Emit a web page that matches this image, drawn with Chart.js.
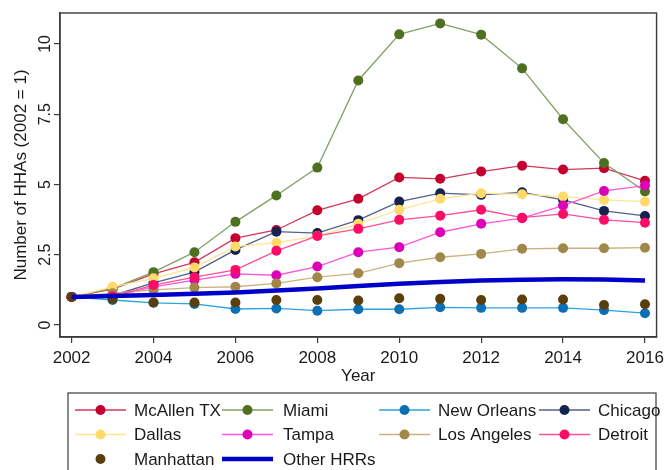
<!DOCTYPE html>
<html>
<head>
<meta charset="utf-8">
<script src="https://cdn.jsdelivr.net/npm/chart.js@4/dist/chart.umd.min.js"></script>
<style>
  html, body { margin: 0; padding: 0; background: #fff; }
  #wrap { width: 669px; height: 470px; position: relative; }
</style>
</head>
<body>
<div id="wrap"><canvas id="c" width="669" height="470"></canvas></div>
<script>
// Home health agencies per hospital referral region, indexed to 2002
const years = [2002, 2003, 2004, 2005, 2006, 2007, 2008, 2009, 2010, 2011, 2012, 2013, 2014, 2015, 2016];
const xTicks = [2002, 2004, 2006, 2008, 2010, 2012, 2014, 2016];
const yTicks = [0, 2.5, 5, 7.5, 10];

const mcallen    = [1, 1.28, 1.82, 2.23, 3.09, 3.38, 4.08, 4.49, 5.25, 5.20, 5.46, 5.67, 5.53, 5.58, 5.13];
const miami      = [1, 1.30, 1.88, 2.59, 3.67, 4.61, 5.60, 8.70, 10.34, 10.73, 10.33, 9.13, 7.32, 5.76, 4.75];
const newOrleans = [1, 0.89, 0.79, 0.75, 0.57, 0.59, 0.51, 0.56, 0.56, 0.63, 0.61, 0.61, 0.61, 0.53, 0.42];
const chicago    = [1, 1.05, 1.50, 1.88, 2.67, 3.32, 3.27, 3.73, 4.39, 4.69, 4.63, 4.72, 4.45, 4.06, 3.88];
const dallas     = [1, 1.36, 1.66, 2.05, 2.79, 2.93, 3.17, 3.60, 4.10, 4.49, 4.69, 4.65, 4.57, 4.45, 4.39];
const tampa      = [1, 1.00, 1.36, 1.60, 1.82, 1.77, 2.08, 2.59, 2.77, 3.30, 3.60, 3.80, 4.25, 4.77, 4.96];
const losAngeles = [1, 1.13, 1.25, 1.33, 1.36, 1.48, 1.70, 1.84, 2.20, 2.41, 2.53, 2.71, 2.73, 2.73, 2.75];
const detroit    = [1, 1.02, 1.42, 1.70, 1.96, 2.64, 3.17, 3.42, 3.74, 3.89, 4.10, 3.82, 3.95, 3.74, 3.64];
const manhattan  = [1, 0.93, 0.80, 0.80, 0.80, 0.89, 0.89, 0.87, 0.95, 0.93, 0.89, 0.91, 0.91, 0.71, 0.74];
const otherHRRs  = [1, 1.03, 1.07, 1.11, 1.16, 1.23, 1.30, 1.39, 1.47, 1.53, 1.58, 1.61, 1.63, 1.62, 1.58];

const FONT = '"Liberation Sans", Arial, Helvetica, sans-serif';
const INK = '#1a1a1a';
const FRAME = '#3a3a3a';

function series(label, data, marker, line, opts) {
  return Object.assign({
    label: label,
    data: data,
    borderColor: line,
    backgroundColor: marker,
    pointBackgroundColor: marker,
    pointBorderColor: marker,
    pointBorderWidth: 0,
    pointRadius: 5,
    pointHoverRadius: 5,
    borderWidth: 1.3,
    tension: 0,
    fill: false
  }, opts || {});
}

const datasets = [
  series('McAllen TX',  mcallen,    '#c4002f', '#d3385a'),
  series('Miami',       miami,      '#4e7021', '#82a064'),
  series('New Orleans', newOrleans, '#0b6fb6', '#2aa4dd'),
  series('Chicago',     chicago,    '#15234f', '#52608a'),
  series('Dallas',      dallas,     '#ffd96a', '#ffe593'),
  series('Tampa',       tampa,      '#dc00b8', '#ff55dc'),
  series('Los Angeles', losAngeles, '#a1884a', '#c9b27f'),
  series('Detroit',     detroit,    '#ff0a66', '#ff4d96'),
  series('Manhattan',   manhattan,  '#5a3f0c', '#5a3f0c', { showLine: false }),
  series('Other HRRs',  otherHRRs,  '#0000c8', '#0000c8', { pointRadius: 0, borderWidth: 4.5 })
];
// later series are painted over earlier ones
datasets.forEach((d, i) => { d.order = datasets.length - i; });

// Box around the plot region
const framePlugin = {
  id: 'frame',
  afterDatasetsDraw(chart) {
    const a = chart.chartArea, ctx = chart.ctx;
    ctx.save();
    ctx.strokeStyle = FRAME;
    ctx.lineWidth = 1.4;
    ctx.strokeRect(a.left, a.top, a.right - a.left, a.bottom - a.top);
    ctx.restore();
  }
};

// Four-column boxed legend below the axis
const boxLegend = {
  id: 'boxLegend',
  afterDraw(chart) {
    const ctx = chart.ctx;
    const cols = [{ line: 75, text: 134 }, { line: 222, text: 283 }, { line: 379, text: 438 }, { line: 539, text: 598 }];
    const rows = [410, 434.5, 459];
    ctx.save();
    ctx.strokeStyle = FRAME;
    ctx.lineWidth = 1.2;
    ctx.strokeRect(68, 393, 588, 90);
    ctx.font = '17px ' + FONT;
    ctx.textBaseline = 'middle';
    ctx.textAlign = 'left';
    chart.data.datasets.forEach((d, i) => {
      const c = cols[i % 4], y = rows[Math.floor(i / 4)];
      const x0 = c.line, x1 = c.line + 51, xm = (x0 + x1) / 2;
      if (d.showLine !== false) {
        ctx.strokeStyle = d.borderColor;
        ctx.lineWidth = d.borderWidth;
        ctx.beginPath();
        ctx.moveTo(x0, y);
        ctx.lineTo(x1, y);
        ctx.stroke();
      }
      if (d.pointRadius > 0) {
        ctx.fillStyle = d.pointBackgroundColor;
        ctx.beginPath();
        ctx.arc(xm, y, 5, 0, Math.PI * 2);
        ctx.fill();
      }
      ctx.fillStyle = INK;
      ctx.fillText(d.label, c.text, y + 1);
    });
    ctx.restore();
  }
};

new Chart(document.getElementById('c'), {
  type: 'line',
  data: { labels: years, datasets: datasets },
  plugins: [framePlugin, boxLegend],
  options: {
    responsive: false,
    animation: false,
    events: [],
    layout: { autoPadding: false, padding: { left: 0, top: 13, right: 6, bottom: 83 } },
    plugins: { legend: { display: false }, tooltip: { enabled: false } },
    scales: {
      x: {
        type: 'linear',
        min: 2001.717,
        max: 2016.283,
        afterBuildTicks(scale) { scale.ticks = xTicks.map(v => ({ value: v })); },
        afterFit(scale) { scale.height = 50; },
        ticks: {
          color: INK,
          font: { family: FONT, size: 17 },
          padding: 5,
          maxRotation: 0,
          autoSkip: false,
          callback: v => String(v)
        },
        grid: { drawOnChartArea: false, drawTicks: true, tickLength: 6, color: FRAME, lineWidth: 1.2 },
        border: { display: true, color: FRAME, width: 1.4 },
        title: {
          display: true,
          text: 'Year',
          color: INK,
          font: { family: FONT, size: 17 },
          padding: { top: 0, bottom: 0 }
        }
      },
      y: {
        type: 'linear',
        min: -0.427,
        max: 11.10,
        afterBuildTicks(scale) { scale.ticks = yTicks.map(v => ({ value: v })); },
        afterFit(scale) { scale.width = 60; },
        ticks: {
          color: INK,
          font: { family: FONT, size: 16 },
          padding: -3,
          minRotation: 90,
          maxRotation: 90,
          crossAlign: 'center',
          autoSkip: false,
          callback: v => String(v)
        },
        grid: { drawOnChartArea: false, drawTicks: true, tickLength: 6, color: FRAME, lineWidth: 1.2 },
        border: { display: true, color: FRAME, width: 1.4 },
        title: {
          display: true,
          text: 'Number of HHAs (2002 = 1)',
          color: INK,
          font: { family: FONT, size: 17 },
          padding: { top: 11, bottom: 0 }
        }
      }
    }
  }
});
</script>
</body>
</html>
